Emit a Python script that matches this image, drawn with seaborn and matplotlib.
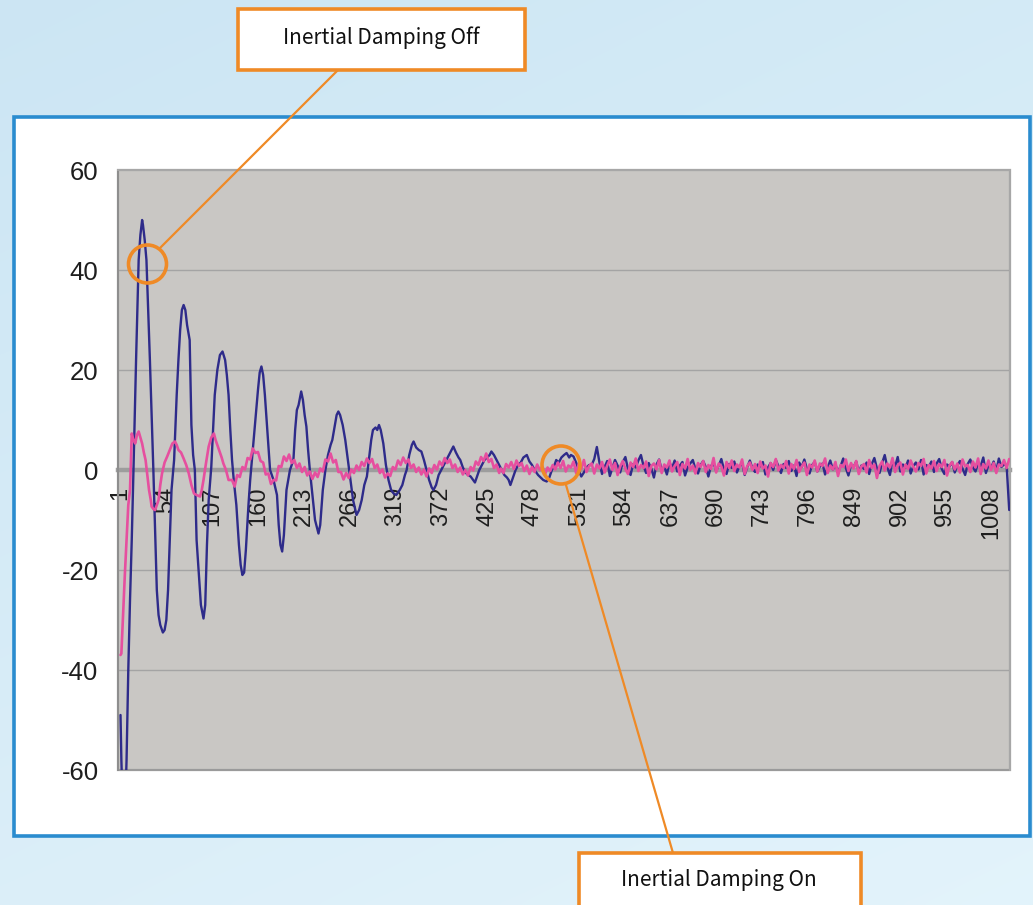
import numpy as np
import pandas as pd
import matplotlib
matplotlib.use("Agg")
import matplotlib.pyplot as plt
import seaborn as sns
from matplotlib.patches import Rectangle, Ellipse
from matplotlib.lines import Line2D

# ---------------------------------------------------------------------------
# Data: sample number vs. deflection
# ---------------------------------------------------------------------------
# Damping off: decaying oscillation (sample, value)
blue_head = [
    (1, -49), (2, -58), (3, -64), (5, -67), (7, -64), (8, -58), (10, -40), (12, -26),
    (14, -14), (16, 0), (19, 22), (22, 42), (24, 47), (26, 50), (27, 49), (29, 46),
    (31, 42), (33, 32), (35, 22), (37, 11), (39, 0), (41, -12), (43, -24), (45, -29),
    (47, -31), (50, -32.5), (52, -32), (54, -30), (56, -24), (58, -14), (60, -4), (62, 0),
    (63, 2), (66, 15), (68, 22), (70, 28), (72, 32), (74, 33), (76, 32), (78, 29),
    (80, 27), (81, 26), (83, 9), (85, 3), (87, 0), (89, -14), (92, -22), (94, -27),
    (97, -29.7), (99, -27), (101, -15), (103, -6), (106, 0.6), (108, 8), (110, 15), (113, 20),
    (116, 23), (119, 23.7), (122, 22), (124, 19), (126, 15), (128, 8), (130, 2), (132, -2),
    (135, -7), (138, -15), (140, -19), (142, -21), (144, -20.5), (146, -16), (149, -7), (151, -2),
    (154, 4), (157, 10), (160, 16), (162, 19.5), (164, 20.7), (166, 19), (168, 15), (170, 10),
    (172, 5), (174, 0), (178, -2), (182, -5), (184, -11), (186, -15), (188, -16.3), (190, -13),
    (193, -4), (197, 0), (201, 2), (203, 8), (205, 12), (207, 13), (210, 15.7), (212, 14),
    (214, 11), (216, 8.7), (218, 4), (220, 0), (223, -5), (226, -10), (230, -12.7), (232, -11),
    (235, -4), (238, 0), (241, 3), (244, 5), (246, 6), (249, 9), (251, 11), (253, 11.7),
    (255, 11), (258, 9), (261, 6), (264, 2), (267, -2), (270, -6), (274, -9), (277, -8),
    (280, -6), (283, -3), (286, -1.3), (289, 3), (291, 6), (293, 8), (296, 8.5), (298, 8),
    (300, 9), (302, 8), (305, 5.3), (308, 1), (311, -2), (314, -4), (317, -4.7), (320, -5),
    (324, -4), (327, -3), (330, -1), (332, 0), (335, 3), (338, 5), (340, 5.7), (343, 4.5),
    (346, 4), (349, 3.7), (352, 2), (355, 0), (358, -2), (361, -3.5), (363, -4), (366, -3),
    (369, -1), (372, 0), (375, 1), (378, 2), (381, 3), (384, 4), (386, 4.7), (389, 3.5),
    (392, 2.5), (394, 2), (397, 0.5), (400, -0.5), (403, -1), (406, -1.3), (409, -2), (411, -2.5),
    (413, -1.5), (416, 0), (419, 1), (422, 2), (425, 2.5), (428, 3), (430, 3.7), (433, 3),
    (436, 2), (439, 1), (442, 0), (445, -1), (448, -1.5), (450, -2), (452, -3), (455, -1.5),
    (458, 0), (461, 1), (464, 1.5), (467, 2.5), (471, 3), (474, 1.7), (477, 1), (480, 0),
    (484, -1), (487, -1.5), (490, -2), (494, -2.3), (497, -1.5), (500, 0), (503, 1), (505, 2),
    (508, 1.5), (511, 2.5), (514, 3), (517, 3.4), (520, 2.5), (522, 3), (525, 2.7), (528, 1.5),
    (531, 0), (534, -1.3), (537, -0.5), (540, 0.5), (543, 1),
]
# Damping off: settled signal, every 3rd sample from 546 to 1029
blue_tail_start, blue_tail_step = 546, 3
blue_tail = [
    1.0, 2.2, 4.6, 1.5, -0.8, 0.6, 1.8, -1.2, 0.4, 2.0, 0.9, -0.5, 1.6, 2.6, 0.2, -1.0, 1.2, 0.5,
    1.9, 3.0, 0.8, -0.6, 1.4, 0.3, -1.5, 1.1, 2.1, 0.0, 0.7, -0.9, 1.5, 0.4, 1.9, -0.3, 0.9, 1.6,
    -1.1, 0.5, 1.3, 2.0, 0.2, -0.7, 1.0, 1.8, 0.6, -1.3, 0.8, 1.4, -0.2, 0.9, 2.2, 0.1, -0.8, 1.2,
    0.4, 1.7, -0.5, 0.8, 1.3, -1.0, 0.6, 1.9, 0.3, -0.4, 1.1, 0.7, 1.6, -0.9, 0.5, 1.4, 0.0, 2.0,
    0.8, -0.6, 1.2, 0.4, 1.8, -0.2, 0.9, -1.2, 1.5, 0.6, 2.1, 0.2, -0.7, 1.0, 1.6, -0.3, 0.7, 1.3,
    -0.9, 0.5, 1.9, 0.1, 1.1, -0.5, 0.8, 2.3, 0.4, -1.1, 1.0, 0.6, 1.7, -0.4, 0.9, 0.2, 1.5, -0.8,
    1.2, 2.4, 0.3, -0.6, 1.4, 3.0, 0.5, -1.0, 1.8, 0.7, 2.6, -0.3, 1.1, 0.4, 1.9, -0.7, 0.8, 1.5,
    0.1, 2.0, -0.9, 1.0, 0.6, 1.7, -0.4, 1.3, 2.2, 0.2, -0.8, 1.1, 0.7, 1.6, -0.5, 0.9, 1.8, 0.3,
    -1.0, 1.2, 2.1, 0.5, -0.3, 1.4, 0.8, 2.5, -0.6, 1.0, 0.4, 1.7, -0.2, 2.3, 0.6, 1.1, 0.9, -8.0,
]

# Damping on: small oscillation (sample, value)
pink_head = [
    (1, -37), (2, -36.7), (4, -28.7), (6, -21), (8, -14), (10, -7), (12, -4), (13, 2),
    (14, 7.3), (16, 6), (18, 5.3), (20, 7), (22, 7.7), (24, 6.5), (26, 5.3), (28, 3.5),
    (30, 2), (32, -1), (34, -4), (36, -6), (37, -7.3), (39, -7.8), (41, -8), (43, -7),
    (45, -6), (47, -3), (49, -0.7), (52, 1.5), (55, 2.7), (58, 4), (61, 5.3), (64, 5.7),
    (66, 5), (68, 4), (71, 3.5), (74, 2.3), (77, 1), (80, -0.7), (83, -3), (86, -4.7),
    (89, -5), (93, -5.3), (95, -4), (97, -2), (100, 1.5), (103, 4.7), (106, 6.5), (109, 7.3),
    (111, 6), (115, 4), (118, 2.5), (120, 1.3), (123, 0), (126, -2),
]
# Damping on: every 3rd sample from 130 to 439
pink_mid_start, pink_mid_step = 130, 3
pink_mid = [
    -2.0, -3.3, -1.0, -1.4, 0.6, 0.1, 2.4, 2.1, 4.3, 3.4, 3.6, 1.8, 1.5, -0.9, -0.7, -2.8,
    -2.0, -2.1, 0.8, 0.6, 2.7, 1.8, 3.1, 1.4, 2.0, 0.4, 1.3, -0.4, 0.6, -1.1, -0.3, -1.8,
    -0.5, -1.4, 0.3, -0.3, 2.1, 1.7, 3.3, 1.5, 2.0, -0.4, -0.4, -1.9, -0.6, -1.6, 0.1, -0.6,
    0.9, 0.0, 1.6, 0.8, 2.3, 1.4, 2.2, 0.4, 1.1, -0.6, 0.1, -1.5, -0.7, -1.2, 0.6, 0.1,
    1.9, 1.0, 2.5, 1.4, 2.1, 0.4, 1.1, -0.4, 0.5, -0.9, 0.1, -1.3, 0.3, -0.6, 1.0, 0.1,
    1.7, 0.9, 2.4, 1.4, 2.1, 0.4, 1.1, -0.4, 0.5, -0.9, 0.0, -1.1, 0.6, -0.1, 1.7, 1.0,
    2.6, 1.8, 3.3, 1.6, 2.2, 0.4, 1.1, -0.6,
]
# Damping on: settled signal, every 3rd sample from 441 to 1029
pink_tail_start, pink_tail_step = 441, 3
pink_tail = [
    0.3, -0.6, 1.2, 0.5, 1.6, 0.2, 1.9, 0.8, 1.4, -0.2, 0.9, -0.8, 0.6, -0.4, 1.1, 0.0, 0.7, -0.9, 0.5, -0.2,
    1.0, 0.1, 1.5, 0.4, 1.8, -0.3, 0.9, 0.5, 1.7, -0.6, 1.2, 0.2, 2.0, -0.4, 0.8, 1.3, -0.7, 1.1, 0.3, 1.6,
    -0.5, 0.9, 2.1, 0.0, 1.4, -1.0, 0.7, 1.8, 0.2, -0.8, 1.5, 0.6, 2.3, -0.2, 1.0, 0.4, 1.7, -1.2, 0.8, 1.3,
    0.1, 2.0, -0.6, 1.1, 0.5, 1.9, -0.3, 0.8, 1.6, -1.0, 1.2, 0.3, 2.2, 0.0, 0.9, -0.7, 1.4, 0.6, 1.8, -0.4,
    1.0, 0.2, 2.4, -0.5, 1.3, 0.7, -1.1, 1.6, 0.4, 1.9, -0.2, 1.1, 0.5, 2.1, -0.8, 0.8, 1.5, 0.0, 1.2, -0.6,
    1.7, 0.3, 0.9, -1.3, 1.4, 0.6, 2.2, -0.1, 1.0, 0.4, 1.8, -0.7, 1.2, 0.2, 2.0, -0.4, 0.7, 1.5, -1.0, 1.1,
    0.5, 1.9, -0.3, 1.3, 0.8, 2.3, -0.6, 0.9, 0.1, 1.6, -1.2, 1.0, 0.6, 2.1, -0.2, 1.4, 0.3, 1.8, -0.8, 0.7,
    1.2, -0.5, 2.0, 0.4, 1.1, -1.6, 0.8, 1.7, -0.1, 1.3, 0.5, 2.4, -0.4, 0.9, 1.5, -0.9, 1.1, 0.2, 1.9, 0.6,
    -0.3, 1.4, 0.8, 2.2, -0.7, 1.0, 0.3, 1.8, -0.2, 1.2, 0.6, 2.0, -1.1, 0.9, 1.6, 0.1, 1.3, -0.5, 2.1, 0.7,
    1.0, -0.4, 1.7, 0.5, 2.3, -0.8, 1.2, 0.3, 1.9, 0.0, 1.4, -0.6, 1.1, 0.8, 2.0, 0.4, 2.2,
]

x_tick_labels = [1, 54, 107, 160, 213, 266, 319, 372, 425, 478, 531,
                 584, 637, 690, 743, 796, 849, 902, 955, 1008]
y_ticks = [-60, -40, -20, 0, 20, 40, 60]

label_off = "Inertial Damping Off"
label_on = "Inertial Damping On"


def series(head, tail_parts):
    xs = [p[0] for p in head]
    ys = [p[1] for p in head]
    for start, step, vals in tail_parts:
        xs += list(start + step * np.arange(len(vals)))
        ys += list(vals)
    return pd.DataFrame({"sample": xs, "value": ys})


df_off = series(blue_head, [(blue_tail_start, blue_tail_step, blue_tail)])
df_on = series(pink_head, [(pink_mid_start, pink_mid_step, pink_mid),
                           (pink_tail_start, pink_tail_step, pink_tail)])

# ---------------------------------------------------------------------------
# Figure
# ---------------------------------------------------------------------------
sns.set_style("white")
plt.rcParams["font.family"] = ["Liberation Sans", "DejaVu Sans"]

W, H = 1033, 905
fig = plt.figure(figsize=(W / 100, H / 100), dpi=100)


def fx(px):
    return px / W


def fy(py):
    return 1 - py / H


# soft sky-blue backdrop
bg = fig.add_axes([0, 0, 1, 1], zorder=-10)
gy, gx = np.mgrid[0:1:300j, 0:1:340j]
r = 0.80 + 0.06 * gy + 0.03 * gx
g = 0.90 + 0.035 * gy + 0.02 * gx
b = 0.955 + 0.02 * gy + 0.01 * gx
bg.imshow(np.clip(np.dstack([r, g, b]), 0, 1), extent=[0, 1, 0, 1],
          aspect="auto", origin="upper", interpolation="bicubic")
bg.set_axis_off()

# white panel with blue frame
fig.add_artist(Rectangle((fx(14), fy(836)), fx(1030) - fx(14), fy(117) - fy(836),
                         transform=fig.transFigure, facecolor="white",
                         edgecolor="#2a8ccf", linewidth=2.6, zorder=-5))

# plot area
ax = fig.add_axes([fx(118), fy(770), fx(1010) - fx(118), fy(170) - fy(770)])
ax.set_facecolor("#c9c7c4")

sns.lineplot(data=df_off, x="sample", y="value", ax=ax, color="#2e2b8a",
             linewidth=1.7, estimator=None, sort=False, zorder=3)
sns.lineplot(data=df_on, x="sample", y="value", ax=ax, color="#e64f9f",
             linewidth=1.9, estimator=None, sort=False, zorder=4)

ax.set_xlim(-1.9, 1029.9)
ax.set_ylim(-60, 60)
ax.set_xlabel("")
ax.set_ylabel("")

for v in y_ticks:
    if v not in (0, -60, 60):
        ax.axhline(v, color="#a4a4a4", linewidth=1.0, zorder=1)

for side in ("top", "right"):
    ax.spines[side].set_color("#a8a8a8")
    ax.spines[side].set_linewidth(1.4)
ax.spines["left"].set_color("#8e8e8e")
ax.spines["left"].set_linewidth(1.4)
ax.spines["bottom"].set_position(("data", 0))
ax.spines["bottom"].set_color("#9d9d9d")
ax.spines["bottom"].set_linewidth(3.2)
ax.spines["bottom"].set_zorder(2)
ax.add_patch(Rectangle((0, 0), 1, 1, transform=ax.transAxes, fill=False,
                       edgecolor="#9a9a9a", linewidth=1.6, zorder=2, clip_on=False))

# ticks are set after the spine move, which rebuilds the tick objects
ax.set_yticks(y_ticks)
ax.set_yticklabels([str(v) for v in y_ticks])
ax.set_xticks(x_tick_labels)
ax.set_xticklabels([str(v) for v in x_tick_labels])
ax.tick_params(axis="y", length=5, width=1, color="#9a9a9a", pad=9,
               labelsize=18.5, labelcolor="#1e1e1e")
ax.tick_params(axis="x", length=0, pad=12, labelsize=17, labelcolor="#1e1e1e",
               labelrotation=90)

# ---------------------------------------------------------------------------
# Callouts
# ---------------------------------------------------------------------------
orange = "#ef8a26"
callout_font = ["Noto Sans CJK KR", "DejaVu Sans"]

fig.add_artist(Rectangle((fx(238), fy(70)), fx(525) - fx(238), fy(9) - fy(70),
                         transform=fig.transFigure, facecolor="white",
                         edgecolor=orange, linewidth=2.6, zorder=6))
fig.text(fx(381), fy(38), label_off, ha="center", va="center", fontsize=15,
         family=callout_font, color="#111111", zorder=7)

fig.add_artist(Rectangle((fx(579), fy(915)), fx(861) - fx(579), fy(853) - fy(915),
                         transform=fig.transFigure, facecolor="white",
                         edgecolor=orange, linewidth=2.6, zorder=6, clip_on=False))
fig.text(fx(719), fy(880), label_on, ha="center", va="center", fontsize=15,
         family=callout_font, color="#111111", zorder=7)

fig.add_artist(Line2D([fx(338), fx(160)], [fy(70), fy(248)], transform=fig.transFigure,
                      color=orange, linewidth=1.6, zorder=5))
fig.add_artist(Line2D([fx(566), fx(673)], [fy(485), fy(853)], transform=fig.transFigure,
                      color=orange, linewidth=1.6, zorder=5))

for cx, cy in [(147.5, 264), (561, 465)]:
    fig.add_artist(Ellipse((fx(cx), fy(cy)), 2 * 19 / W, 2 * 19 / H,
                           transform=fig.transFigure, fill=False,
                           edgecolor=orange, linewidth=2.6, zorder=5))

fig.savefig("out.png", dpi=100)
